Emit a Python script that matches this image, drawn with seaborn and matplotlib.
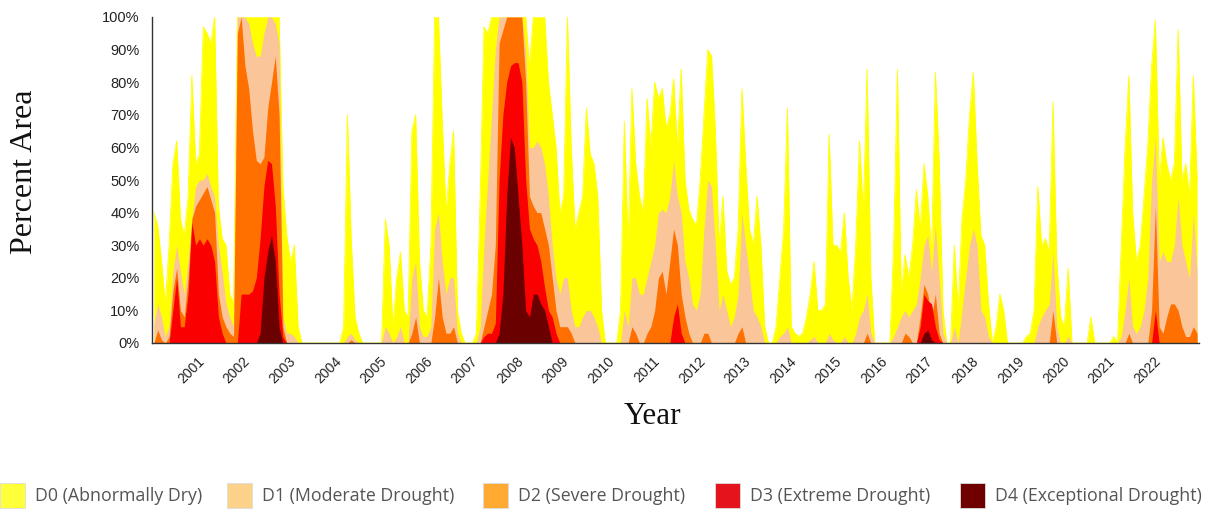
import numpy as np
import pandas as pd
import matplotlib
matplotlib.use("Agg")
import matplotlib.pyplot as plt
from matplotlib.patches import Rectangle
import seaborn as sns

# ---------------- data (monthly, cumulative percent area) ----------------
start_year = 2000
tick_years = list(range(2001, 2023))

d0 = [
    40, 36, 25, 12, 30, 55, 62, 38, 33, 45, 82, 55,        # 2000
    58, 97, 95, 92, 100, 42, 32, 30, 15, 12, 100, 100,     # 2001
    100, 100, 100, 100, 100, 100, 100, 100, 100, 100, 48, 33,  # 2002
    25, 30, 5, 0, 0, 0, 0, 0, 0, 0, 0, 0,                  # 2003
    0, 0, 5, 70, 32, 8, 3, 0, 0, 0, 0, 0,                  # 2004
    0, 38, 30, 5, 20, 28, 10, 8, 65, 70, 25, 10,           # 2005
    8, 30, 100, 100, 68, 40, 55, 65, 10, 3, 0, 0,          # 2006
    0, 3, 45, 97, 95, 100, 100, 100, 100, 100, 100, 100,   # 2007
    100, 100, 100, 85, 100, 100, 100, 100, 80, 70, 60, 40, # 2008
    45, 100, 60, 35, 40, 45, 72, 58, 55, 45, 10, 0,        # 2009
    0, 0, 0, 10, 68, 30, 78, 55, 45, 40, 75, 60,           # 2010
    80, 75, 78, 66, 70, 81, 60, 84, 50, 41, 38, 36,        # 2011
    50, 70, 90, 88, 65, 30, 45, 22, 18, 20, 35, 78,        # 2012
    55, 35, 30, 45, 30, 5, 0, 0, 5, 20, 35, 72,            # 2013
    5, 3, 2, 3, 8, 15, 25, 10, 10, 12, 64, 30,             # 2014
    30, 28, 40, 20, 10, 30, 62, 40, 84, 20, 0, 0,          # 2015
    0, 0, 0, 30, 84, 15, 27, 20, 30, 47, 35, 55,           # 2016
    45, 27, 83, 56, 10, 0, 0, 30, 10, 38, 50, 70,          # 2017
    83, 55, 33, 30, 12, 0, 5, 15, 10, 0, 0, 0,             # 2018
    0, 0, 2, 3, 10, 48, 30, 32, 28, 74, 25, 8,             # 2019
    5, 23, 0, 0, 0, 0, 0, 8, 0, 0, 0, 0,                   # 2020
    0, 2, 0, 30, 60, 82, 40, 25, 30, 45, 61, 85,           # 2021
    99, 50, 63, 55, 50, 55, 96, 50, 55, 45, 82, 50,        # 2022
]

d1 = [
    6, 12, 8, 2, 5, 22, 30, 22, 15, 25, 38, 48,            # 2000
    50, 50, 52, 48, 45, 30, 22, 12, 8, 5, 100, 100,        # 2001
    100, 98, 92, 88, 88, 95, 100, 100, 98, 92, 8, 3,       # 2002
    3, 2, 0, 0, 0, 0, 0, 0, 0, 0, 0, 0,                    # 2003
    0, 0, 0, 2, 3, 1, 0, 0, 0, 0, 0, 0,                    # 2004
    0, 5, 3, 0, 2, 5, 0, 0, 20, 25, 5, 2,                  # 2005
    2, 5, 35, 40, 25, 15, 20, 20, 3, 0, 0, 0,              # 2006
    0, 0, 5, 30, 50, 70, 90, 100, 100, 100, 100, 100,      # 2007
    100, 100, 90, 60, 60, 62, 60, 55, 45, 30, 20, 15,      # 2008
    20, 20, 10, 5, 5, 8, 10, 10, 8, 5, 0, 0,               # 2009
    0, 0, 0, 0, 10, 5, 20, 20, 15, 15, 20, 25,             # 2010
    30, 40, 41, 40, 45, 56, 45, 40, 25, 20, 12, 10,        # 2011
    15, 35, 50, 48, 30, 10, 15, 10, 5, 8, 15, 40,          # 2012
    30, 20, 10, 8, 5, 0, 0, 0, 0, 2, 3, 5,                 # 2013
    0, 0, 0, 0, 0, 1, 2, 0, 0, 0, 3, 1,                    # 2014
    0, 0, 2, 0, 0, 3, 8, 10, 15, 3, 0, 0,                  # 2015
    0, 0, 0, 2, 5, 8, 10, 8, 10, 12, 20, 30,               # 2016
    33, 22, 36, 20, 3, 0, 0, 5, 0, 10, 20, 30,             # 2017
    35, 30, 10, 8, 2, 0, 0, 0, 0, 0, 0, 0,                 # 2018
    0, 0, 0, 0, 0, 5, 8, 10, 12, 28, 5, 0,                 # 2019
    0, 2, 0, 0, 0, 0, 0, 0, 0, 0, 0, 0,                    # 2020
    0, 0, 0, 2, 10, 20, 5, 3, 5, 10, 20, 50,               # 2021
    63, 25, 28, 25, 25, 30, 45, 30, 25, 20, 40, 22,        # 2022
]

d2 = [
    0, 4, 1, 0, 2, 16, 23, 10, 8, 20, 38, 42,              # 2000
    44, 46, 48, 44, 40, 15, 8, 5, 3, 2, 95, 100,           # 2001
    85, 78, 65, 56, 55, 57, 72, 80, 88, 70, 5, 0,          # 2002
    0, 0, 0, 0, 0, 0, 0, 0, 0, 0, 0, 0,                    # 2003
    0, 0, 0, 0, 1, 0, 0, 0, 0, 0, 0, 0,                    # 2004
    0, 0, 0, 0, 0, 0, 0, 0, 3, 8, 0, 0,                    # 2005
    0, 0, 8, 20, 8, 3, 3, 5, 0, 0, 0, 0,                   # 2006
    0, 0, 0, 5, 10, 15, 30, 92, 96, 100, 100, 100,         # 2007
    100, 100, 80, 45, 42, 40, 40, 35, 30, 20, 10, 5,       # 2008
    5, 5, 3, 0, 0, 0, 0, 0, 0, 0, 0, 0,                    # 2009
    0, 0, 0, 0, 0, 0, 5, 3, 0, 0, 3, 5,                    # 2010
    10, 20, 22, 15, 25, 35, 30, 15, 8, 3, 0, 0,            # 2011
    0, 3, 3, 0, 0, 0, 0, 0, 0, 0, 3, 5,                    # 2012
    0, 0, 0, 0, 0, 0, 0, 0, 0, 0, 0, 0,                    # 2013
    0, 0, 0, 0, 0, 0, 0, 0, 0, 0, 0, 0,                    # 2014
    0, 0, 0, 0, 0, 0, 0, 0, 3, 0, 0, 0,                    # 2015
    0, 0, 0, 0, 0, 0, 3, 2, 0, 0, 8, 18,                   # 2016
    15, 8, 15, 3, 0, 0, 0, 0, 0, 0, 0, 0,                  # 2017
    0, 0, 0, 0, 0, 0, 0, 0, 0, 0, 0, 0,                    # 2018
    0, 0, 0, 0, 0, 0, 0, 0, 0, 10, 0, 0,                   # 2019
    0, 0, 0, 0, 0, 0, 0, 0, 0, 0, 0, 0,                    # 2020
    0, 0, 0, 0, 0, 3, 0, 0, 0, 0, 0, 10,                   # 2021
    42, 5, 3, 8, 12, 12, 10, 5, 2, 2, 5, 3,                # 2022
]

d3 = [
    0, 0, 0, 0, 0, 10, 20, 5, 5, 15, 37, 30,               # 2000
    32, 30, 32, 30, 25, 8, 3, 0, 0, 0, 0, 15,              # 2001
    15, 15, 16, 20, 32, 48, 56, 55, 42, 15, 2, 0,          # 2002
    0, 0, 0, 0, 0, 0, 0, 0, 0, 0, 0, 0,                    # 2003
    0, 0, 0, 0, 0, 0, 0, 0, 0, 0, 0, 0,                    # 2004
    0, 0, 0, 0, 0, 0, 0, 0, 0, 0, 0, 0,                    # 2005
    0, 0, 0, 0, 0, 0, 0, 0, 0, 0, 0, 0,                    # 2006
    0, 0, 0, 2, 3, 3, 6, 50, 70, 80, 85, 86,               # 2007
    86, 80, 50, 35, 32, 30, 25, 17, 10, 8, 3, 0,           # 2008
    0, 0, 0, 0, 0, 0, 0, 0, 0, 0, 0, 0,                    # 2009
    0, 0, 0, 0, 0, 0, 0, 0, 0, 0, 0, 0,                    # 2010
    0, 0, 0, 0, 0, 8, 12, 3, 0, 0, 0, 0,                   # 2011
    0, 0, 0, 0, 0, 0, 0, 0, 0, 0, 0, 0,                    # 2012
    0, 0, 0, 0, 0, 0, 0, 0, 0, 0, 0, 0,                    # 2013
    0, 0, 0, 0, 0, 0, 0, 0, 0, 0, 0, 0,                    # 2014
    0, 0, 0, 0, 0, 0, 0, 0, 0, 0, 0, 0,                    # 2015
    0, 0, 0, 0, 0, 0, 0, 0, 0, 0, 5, 15,                   # 2016
    13, 12, 5, 1, 0, 0, 0, 0, 0, 0, 0, 0,                  # 2017
    0, 0, 0, 0, 0, 0, 0, 0, 0, 0, 0, 0,                    # 2018
    0, 0, 0, 0, 0, 0, 0, 0, 0, 0, 0, 0,                    # 2019
    0, 0, 0, 0, 0, 0, 0, 0, 0, 0, 0, 0,                    # 2020
    0, 0, 0, 0, 0, 0, 0, 0, 0, 0, 0, 0,                    # 2021
    10, 0, 0, 0, 0, 0, 0, 0, 0, 0, 0, 0,                   # 2022
]

d4 = [
    0, 0, 0, 0, 0, 0, 0, 0, 0, 0, 0, 0,                    # 2000
    0, 0, 0, 0, 0, 0, 0, 0, 0, 0, 0, 0,                    # 2001
    0, 0, 0, 0, 3, 20, 28, 33, 25, 5, 0, 0,                # 2002
    0, 0, 0, 0, 0, 0, 0, 0, 0, 0, 0, 0,                    # 2003
    0, 0, 0, 0, 0, 0, 0, 0, 0, 0, 0, 0,                    # 2004
    0, 0, 0, 0, 0, 0, 0, 0, 0, 0, 0, 0,                    # 2005
    0, 0, 0, 0, 0, 0, 0, 0, 0, 0, 0, 0,                    # 2006
    0, 0, 0, 0, 0, 0, 0, 3, 15, 45, 63, 60,                # 2007
    45, 30, 10, 8, 15, 15, 12, 10, 5, 0, 0, 0,             # 2008
    0, 0, 0, 0, 0, 0, 0, 0, 0, 0, 0, 0,                    # 2009
    0, 0, 0, 0, 0, 0, 0, 0, 0, 0, 0, 0,                    # 2010
    0, 0, 0, 0, 0, 0, 0, 0, 0, 0, 0, 0,                    # 2011
    0, 0, 0, 0, 0, 0, 0, 0, 0, 0, 0, 0,                    # 2012
    0, 0, 0, 0, 0, 0, 0, 0, 0, 0, 0, 0,                    # 2013
    0, 0, 0, 0, 0, 0, 0, 0, 0, 0, 0, 0,                    # 2014
    0, 0, 0, 0, 0, 0, 0, 0, 0, 0, 0, 0,                    # 2015
    0, 0, 0, 0, 0, 0, 0, 0, 0, 0, 0, 3,                    # 2016
    4, 1, 0, 0, 0, 0, 0, 0, 0, 0, 0, 0,                    # 2017
    0, 0, 0, 0, 0, 0, 0, 0, 0, 0, 0, 0,                    # 2018
    0, 0, 0, 0, 0, 0, 0, 0, 0, 0, 0, 0,                    # 2019
    0, 0, 0, 0, 0, 0, 0, 0, 0, 0, 0, 0,                    # 2020
    0, 0, 0, 0, 0, 0, 0, 0, 0, 0, 0, 0,                    # 2021
    0, 0, 0, 0, 0, 0, 0, 0, 0, 0, 0, 0,                    # 2022
]

categories = ["D0 (Abnormally Dry)", "D1 (Moderate Drought)", "D2 (Severe Drought)",
              "D3 (Extreme Drought)", "D4 (Exceptional Drought)"]
area_colors = ["#FFFF00", "#FAC699", "#FF7000", "#FA0000", "#6A0000"]
legend_colors = ["#FFFF3A", "#FCD28A", "#FFAA33", "#E3141C", "#700000"]
series = [d0, d1, d2, d3, d4]

# ---------------- build long table ----------------
n = len(d0)
t = start_year + (np.arange(n) + 0.5) / 12.0
frames = []
for cat, vals in zip(categories, series):
    frames.append(pd.DataFrame({"t": t, "value": vals, "category": cat}))
df = pd.concat(frames, ignore_index=True)

# ---------------- figure ----------------
sns.set_theme(style="white")
plt.rcParams["font.family"] = ["Liberation Sans", "DejaVu Sans"]

W, H = 1216, 515
fig = plt.figure(figsize=(W / 100, H / 100), dpi=100)
ax = fig.add_axes([152 / W, 1 - 343 / H, (1199 - 152) / W, (343 - 17) / H])

# soft outline of the D0 envelope under the fills (seaborn line)
sns.lineplot(data=df[df["category"] == categories[0]], x="t", y="value",
             color=area_colors[0], lw=0.6, ax=ax, legend=False, zorder=1)
for cat, col in zip(categories, area_colors):
    sub = df[df["category"] == cat]
    ax.fill_between(sub["t"], 0, sub["value"], color=col, lw=0, zorder=2)

ax.set_xlim(2000, 2023)
ax.set_ylim(0, 100)
ax.set_xticks(tick_years)
ax.set_xticklabels([str(y) for y in tick_years], rotation=45, ha="right",
                   rotation_mode="anchor", fontsize=10, color="#222")
ax.set_xticks([2000, 2023], minor=True)
ax.set_yticks(range(0, 101, 10))
ax.set_yticklabels([f"{v}%" for v in range(0, 101, 10)], fontsize=10.5, color="#222")
ax.tick_params(axis="both", which="both", direction="out", length=6, width=1,
               color="#333", pad=3)
ax.tick_params(axis="x", pad=2)
ax.set_xlabel("")
ax.set_ylabel("")
for s in ["top", "right"]:
    ax.spines[s].set_visible(False)
for s in ["left", "bottom"]:
    ax.spines[s].set_color("#333")
    ax.spines[s].set_linewidth(1)
    ax.spines[s].set_zorder(5)
ax.grid(False)

fig.text(25 / W, 1 - 172 / H, "Percent Area", rotation=90, ha="center", va="center",
         family="Liberation Serif", fontsize=23, color="#111")
fig.text(652 / W, 1 - 417 / H, "Year", ha="center", va="center",
         family="Liberation Serif", fontsize=22.5, color="#111")

# ---------------- legend ----------------
patch_x = [0, 227, 483, 715, 960]
text_x = [35, 262, 518, 750, 995]
for px, tx, col, cat in zip(patch_x, text_x, legend_colors, categories):
    fig.patches.append(Rectangle((px / W, 1 - 508 / H), 25 / W, 25 / H,
                                 transform=fig.transFigure, facecolor=col,
                                 edgecolor="#dddddd", lw=0.6))
    fig.text(tx / W, 1 - 496 / H, cat, ha="left", va="center",
             family=["Open Sans", "DejaVu Sans"], fontsize=12.8, color="#555")

fig.savefig("out.png", dpi=100)
